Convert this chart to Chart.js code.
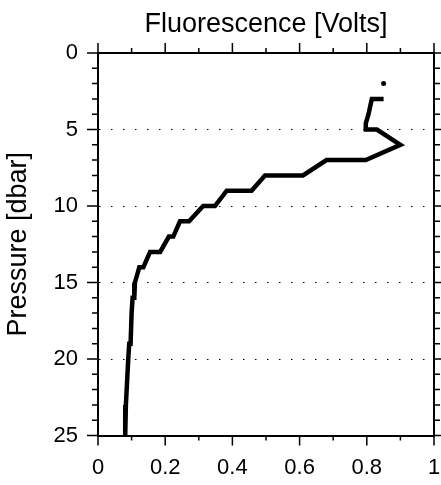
<!DOCTYPE html>
<html>
<head>
<meta charset="utf-8">
<title>Fluorescence profile</title>
<script src="https://cdn.jsdelivr.net/npm/chart.js@4.4.1/dist/chart.umd.min.js"></script>
<style>
  html, body { margin: 0; padding: 0; background: #fff; }
  canvas { display: block; }
</style>
</head>
<body>
<canvas id="profileChart" width="441" height="485"></canvas>
<script>
// profile vertices (pressure in dbar, fluorescence in volts)
const pressure = [3, 3, 4, 4.6, 5, 5, 6, 7, 7, 8, 8, 9, 9, 10, 10, 11, 11, 12, 12, 13, 13, 14, 14, 15, 16, 16, 17, 19, 19, 20, 23, 25];
const fluorescence = [0.85, 0.815, 0.805, 0.797, 0.797, 0.83, 0.90, 0.797, 0.68, 0.61, 0.497, 0.457, 0.383, 0.348, 0.313, 0.271, 0.244, 0.224, 0.211, 0.185, 0.155, 0.135, 0.123, 0.110, 0.108, 0.103, 0.100, 0.097, 0.093, 0.090, 0.083, 0.081];

// lone sample above the profile
const dotPressure = [2];
const dotFluorescence = [0.85];

const xTickValues = [0, 0.2, 0.4, 0.6, 0.8, 1];
const yTickValues = [0, 5, 10, 15, 20, 25];

const FONT = 'Liberation Sans, Arial, Helvetica, sans-serif';

function toPoints(xs, ys) {
    return xs.map(function(v, i) { return { x: v, y: ys[i] }; });
}

// draws the major and minor tick marks on all four sides
const frameTicks = {
    id: 'frameTicks',
    afterDraw(chart) {
        const ctx = chart.ctx;
        const a = chart.chartArea;
        const xs = chart.scales.x;
        const ys = chart.scales.y;
        ctx.save();
        ctx.strokeStyle = '#000';
        ctx.lineWidth = 1.5;
        ctx.beginPath();
        for (let i = 0; i <= 10; i++) {
            const px = xs.getPixelForValue(i / 10);
            const len = i % 2 === 0 ? 10 : 5;
            ctx.moveTo(px, a.bottom); ctx.lineTo(px, a.bottom + len);
            ctx.moveTo(px, a.top); ctx.lineTo(px, a.top - len);
        }
        for (let p = 0; p <= 25; p++) {
            const py = ys.getPixelForValue(p);
            const len = p % 5 === 0 ? 11 : 6;
            ctx.moveTo(a.left, py); ctx.lineTo(a.left - len, py);
            ctx.moveTo(a.right, py); ctx.lineTo(a.right + len, py);
        }
        ctx.stroke();
        ctx.restore();
    }
};

const border = { display: true, color: '#000', width: 2 };

// keep the plot box fixed, no extra room for overhanging labels
function fixBox(w, h) {
    return function(s) {
        if (w !== null) s.width = w;
        if (h !== null) s.height = h;
        s.paddingLeft = 0;
        s.paddingRight = 0;
        s.paddingTop = 0;
        s.paddingBottom = 0;
    };
}

new Chart(document.getElementById('profileChart'), {
    type: 'scatter',
    data: {
        datasets: [{
            data: toPoints(fluorescence, pressure),
            showLine: true,
            borderColor: '#000',
            borderWidth: 4.5,
            borderJoinStyle: 'miter',
            pointRadius: 0,
            fill: false
        }, {
            data: toPoints(dotFluorescence, dotPressure),
            pointRadius: 2.5,
            pointBackgroundColor: '#000',
            pointBorderWidth: 0
        }]
    },
    options: {
        responsive: false,
        animation: false,
        layout: { padding: 0 },
        plugins: {
            legend: { display: false },
            tooltip: { enabled: false }
        },
        scales: {
            x: {
                type: 'linear',
                position: 'bottom',
                min: 0,
                max: 1,
                afterBuildTicks: function(s) { s.ticks = xTickValues.map(function(v) { return { value: v }; }); },
                ticks: {
                    color: '#000',
                    padding: 19,
                    maxRotation: 0,
                    font: { family: FONT, size: 22 },
                    callback: function(v) { return String(Math.round(v * 10) / 10); }
                },
                grid: { display: true, drawOnChartArea: false, drawTicks: false },
                border: border,
                afterFit: fixBox(null, 49.5)
            },
            x2: {
                type: 'linear',
                position: 'top',
                min: 0,
                max: 1,
                ticks: { display: false },
                grid: { display: true, drawOnChartArea: false, drawTicks: false },
                border: border,
                title: {
                    display: true,
                    text: 'Fluorescence [Volts]',
                    color: '#000',
                    padding: { top: 8, bottom: 0 },
                    font: { family: FONT, size: 27 }
                },
                afterFit: fixBox(null, 53)
            },
            y: {
                type: 'linear',
                position: 'left',
                reverse: true,
                min: 0,
                max: 25,
                afterBuildTicks: function(s) { s.ticks = yTickValues.map(function(v) { return { value: v }; }); },
                ticks: { color: '#000', padding: 20, font: { family: FONT, size: 22 } },
                grid: {
                    drawTicks: false,
                    lineWidth: 1,
                    color: function(c) {
                        return (c.tick && (c.tick.value === 0 || c.tick.value === 25)) ? 'rgba(0,0,0,0)' : '#000';
                    }
                },
                border: { display: true, color: '#000', width: 2, dash: [1.5, 10.5] },
                title: {
                    display: true,
                    text: 'Pressure [dbar]',
                    color: '#000',
                    padding: { top: 2, bottom: 0 },
                    font: { family: FONT, size: 27 }
                },
                afterFit: fixBox(98, null)
            },
            y2: {
                type: 'linear',
                position: 'right',
                reverse: true,
                min: 0,
                max: 25,
                ticks: { display: false },
                grid: { display: true, drawOnChartArea: false, drawTicks: false },
                border: border,
                afterFit: fixBox(7, null)
            }
        }
    },
    plugins: [frameTicks]
});
</script>
</body>
</html>
